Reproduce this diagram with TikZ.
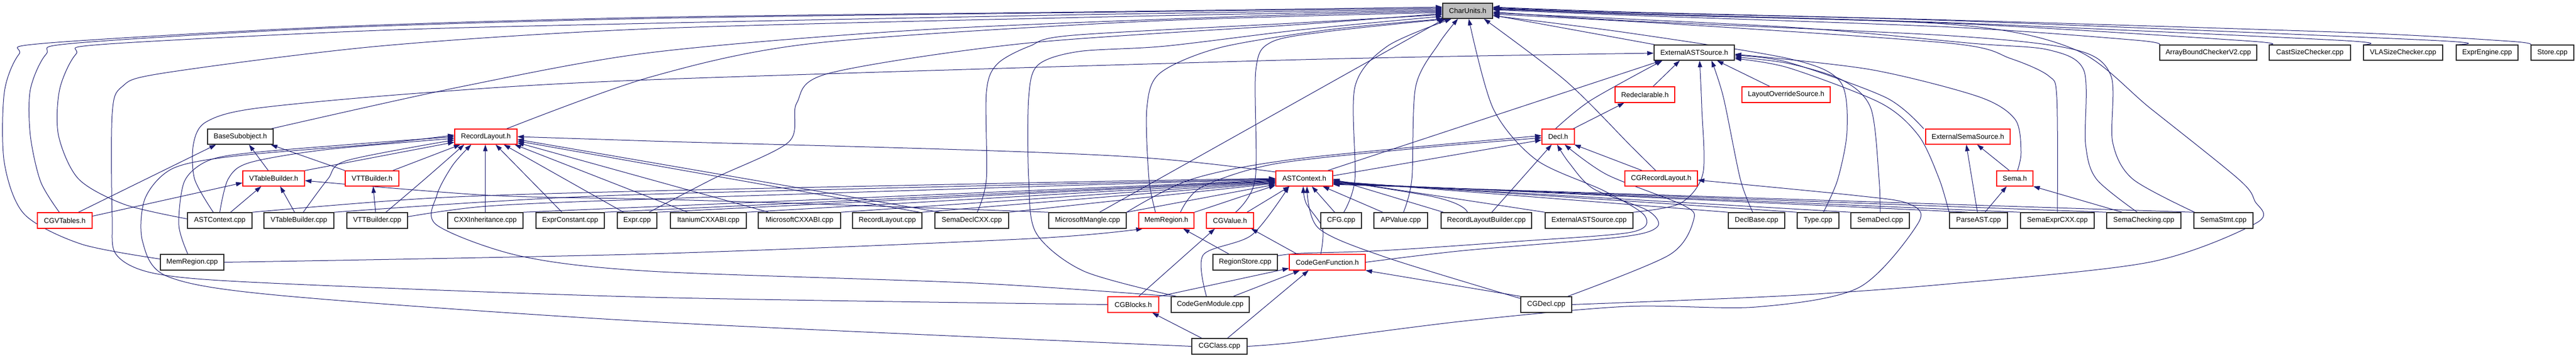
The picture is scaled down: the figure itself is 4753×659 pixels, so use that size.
\documentclass[tikz,border=0pt]{standalone}
\usepackage{fontspec}
\setmainfont{Liberation Sans}
\usetikzlibrary{arrows.meta}
\pgfdeclarelayer{bgfill}
\pgfdeclarelayer{edges}
\pgfsetlayers{bgfill,edges,main}
\definecolor{edgec}{RGB}{25,25,112}
\definecolor{blkc}{RGB}{40,40,40}
\definecolor{grayc}{RGB}{191,191,191}
\tikzset{
  ed/.style={draw=edgec, line width=1pt, -{Triangle[length=12pt,width=8pt]}},
  nbase/.style={rectangle, inner sep=0pt, fill=white, font=\fontsize{13}{15}\selectfont},
  blk/.style={nbase, draw=blkc, line width=1.5pt},
  redb/.style={nbase, draw=red, line width=1.2pt},
  grayb/.style={nbase, draw=blkc, line width=1.5pt, fill=grayc}
}
\newcommand\mknode[7]{\node[#1,minimum width={#4-#3},minimum height={#6-#5}] (#2) at ({(#3+#4)/2},{(#5+#6)/2}) {#7};}
\begin{document}
\begin{tikzpicture}[x=1pt,y=-1pt]
\useasboundingbox (0,0) rectangle (4753,659);
\begin{pgfonlayer}{bgfill}
\fill[white] (0,0) rectangle (4753,659);
\end{pgfonlayer}
% ---- nodes
\mknode{grayb}{CU}{2662}{2754}{6}{34}{CharUnits.h}
\mknode{blk}{EA}{3052}{3200}{83}{111}{ExternalASTSource.h}
\mknode{blk}{ABC}{3985}{4164}{83}{111}{ArrayBoundCheckerV2.cpp}
\mknode{blk}{CSC}{4187}{4337}{83}{111}{CastSizeChecker.cpp}
\mknode{blk}{VLA}{4361}{4507}{83}{111}{VLASizeChecker.cpp}
\mknode{blk}{EE}{4532}{4646}{83}{111}{ExprEngine.cpp}
\mknode{blk}{ST}{4670}{4749}{83}{111}{Store.cpp}
\mknode{redb}{RD}{2980}{3090}{160}{189}{Redeclarable.h}
\mknode{redb}{LO}{3214}{3377}{160}{189}{LayoutOverrideSource.h}
\mknode{blk}{BS}{383}{504}{238}{266}{BaseSubobject.h}
\mknode{redb}{RL}{839}{954}{238}{266}{RecordLayout.h}
\mknode{redb}{DH}{2845}{2905}{238}{266}{Decl.h}
\mknode{redb}{ES}{3553}{3709}{238}{266}{ExternalSemaSource.h}
\mknode{redb}{VB}{448}{562}{315}{343}{VTableBuilder.h}
\mknode{redb}{VT}{637}{736}{315}{343}{VTTBuilder.h}
\mknode{redb}{AC}{2354}{2459}{315}{343}{ASTContext.h}
\mknode{redb}{CRL}{2998}{3132}{315}{343}{CGRecordLayout.h}
\mknode{redb}{SH}{3684}{3751}{315}{343}{Sema.h}
\mknode{redb}{CGVT}{69}{170}{392}{421}{CGVTables.h}
\mknode{blk}{ACcpp}{346}{465}{392}{421}{ASTContext.cpp}
\mknode{blk}{VBcpp}{487}{616}{392}{421}{VTableBuilder.cpp}
\mknode{blk}{VTcpp}{640}{752}{392}{421}{VTTBuilder.cpp}
\mknode{blk}{CXXI}{826}{965}{392}{421}{CXXInheritance.cpp}
\mknode{blk}{EC}{989}{1115}{392}{421}{ExprConstant.cpp}
\mknode{blk}{EXPR}{1139}{1212}{392}{421}{Expr.cpp}
\mknode{blk}{IT}{1237}{1377}{392}{421}{ItaniumCXXABI.cpp}
\mknode{blk}{MSABI}{1399}{1551}{392}{421}{MicrosoftCXXABI.cpp}
\mknode{blk}{RLcpp}{1573}{1701}{392}{421}{RecordLayout.cpp}
\mknode{blk}{SDCXX}{1725}{1861}{392}{421}{SemaDeclCXX.cpp}
\mknode{blk}{MSM}{1935}{2078}{392}{421}{MicrosoftMangle.cpp}
\mknode{redb}{MRH}{2101}{2203}{392}{421}{MemRegion.h}
\mknode{redb}{CGV}{2226}{2313}{392}{421}{CGValue.h}
\mknode{blk}{CFG}{2437}{2512}{392}{421}{CFG.cpp}
\mknode{blk}{APV}{2535}{2634}{392}{421}{APValue.cpp}
\mknode{blk}{RLB}{2659}{2826}{392}{421}{RecordLayoutBuilder.cpp}
\mknode{blk}{EAcpp}{2851}{3013}{392}{421}{ExternalASTSource.cpp}
\mknode{blk}{DB}{3189}{3293}{392}{421}{DeclBase.cpp}
\mknode{blk}{TY}{3316}{3393}{392}{421}{Type.cpp}
\mknode{blk}{SD}{3415}{3523}{392}{421}{SemaDecl.cpp}
\mknode{blk}{PA}{3597}{3704}{392}{421}{ParseAST.cpp}
\mknode{blk}{SECXX}{3728}{3864}{392}{421}{SemaExprCXX.cpp}
\mknode{blk}{SC}{3887}{4024}{392}{421}{SemaChecking.cpp}
\mknode{blk}{SS}{4048}{4157}{392}{421}{SemaStmt.cpp}
\mknode{blk}{MRcpp}{296}{413}{469}{498}{MemRegion.cpp}
\mknode{blk}{RS}{2238}{2357}{469}{498}{RegionStore.cpp}
\mknode{redb}{CGF}{2379}{2519}{469}{498}{CodeGenFunction.h}
\mknode{redb}{CGB}{2044}{2138}{547}{576}{CGBlocks.h}
\mknode{blk}{CGM}{2161}{2305}{547}{576}{CodeGenModule.cpp}
\mknode{blk}{CGD}{2806}{2900}{547}{576}{CGDecl.cpp}
\mknode{blk}{CGC}{2199}{2301}{624}{653}{CGClass.cpp}
% ---- edges
\begin{pgfonlayer}{edges}
% into CharUnits.h from the left
\draw[ed] plot[smooth] coordinates {([yshift=6]MRcpp.west) (150,450) (45,395) (8,300) (8,170) (35,100) (80,80) (600,50) (1200,32) (2000,22) ([yshift=7]CU.west)};
\draw[ed] plot[smooth] coordinates {([xshift=-10]CGVT.north) (75,335) (56,250) (56,165) (85,100) (134,80) (600,52) (1200,34) (2000,23) ([yshift=5]CU.west)};
\draw[ed] plot[smooth] coordinates {([yshift=3]ACcpp.west) (230,377) (145,330) (108,250) (110,165) (140,100) (187,82) (700,56) (1200,43) (2000,27) ([yshift=3]CU.west)};
\draw[ed] plot[smooth] coordinates {(CGB.west) (1200,548) (500,522) (290,505) (215,470) (207,400) (207,210) (225,160) (300,135) (700,85) (1200,53) (2000,32) ([yshift=1]CU.west)};
\draw[ed] plot[smooth] coordinates {([xshift=-4]BS.north east) (850,160) (1200,97) (1700,55) (2300,30) ([yshift=-1]CU.west)};
\draw[ed] plot[smooth] coordinates {([xshift=-20]RL.north east) (1200,142) (1500,80) (2100,40) ([yshift=-3]CU.west)};
\draw[ed] plot[smooth] coordinates {([xshift=22]EXPR.north) (1315,330) (1455,262) (1470,190) (1530,135) (1890,80) (2400,45) ([yshift=-5]CU.west)};
\draw[ed] plot[smooth] coordinates {([xshift=10]SDCXX.north) (1820,330) (1820,170) (1840,118) (1900,85) (1980,65) (2400,42) ([yshift=-7]CU.west)};
\draw[ed] plot[smooth] coordinates {([xshift=10]CGM.north west) (2000,500) (1912,430) (1898,330) (1898,180) (1915,120) (1990,95) (2150,85) (2400,55) ([yshift=-10]CU.west)};
\draw[ed] plot[smooth] coordinates {([xshift=-20]MRH.north) (2120,330) (2116,200) (2140,135) (2250,88) (2450,55) ([xshift=2]CU.south west)};
\draw[ed] ([xshift=-50]MSM.north east) -- ([xshift=4]CU.south west);
\draw[ed] plot[smooth] coordinates {([xshift=10]CGV.north) (2316,330) (2317,130) (2345,78) (2450,58) ([xshift=10]CU.south west)};
\draw[ed] plot[smooth] coordinates {([xshift=5]CFG.north) (2500,330) (2500,160) (2560,85) ([xshift=-30]CU.south)};
\draw[ed] plot[smooth] coordinates {([xshift=5]APV.north) (2605,330) (2612,160) (2655,80) ([xshift=-18]CU.south)};
\draw[ed] plot[smooth] coordinates {([yshift=12]RS.east) (2400,467) (2550,462) (2800,445) (3010,428) (3035,398) (2960,352) (2835,295) (2755,200) ([xshift=2]CU.south)};
\draw[ed] plot[smooth] coordinates {([xshift=-10]CRL.north) (3010,270) (2890,150) ([xshift=30]CU.south)};
\draw[ed] ([xshift=2]EA.north west) -- ([yshift=-8]CU.east);
% into CharUnits.h from the right
\draw[ed] plot[smooth] coordinates {(ABC.north west) (3940,74) (3600,50) (3000,28) ([yshift=2]CU.east)};
\draw[ed] plot[smooth] coordinates {(CSC.north west) (4140,75) (3600,43) (3000,26) ([yshift=4]CU.east)};
\draw[ed] plot[smooth] coordinates {(VLA.north west) (4310,74) (3600,42) (3000,25) ([yshift=5]CU.east)};
\draw[ed] plot[smooth] coordinates {(EE.north west) (4480,74) (3600,38) (3000,23) ([yshift=6]CU.east)};
\draw[ed] plot[smooth] coordinates {(ST.north west) (4630,76) (4335,60) (3600,37) (3000,22) ([yshift=7]CU.east)};
\draw[ed] plot[smooth] coordinates {([xshift=2]SS.north west) (3935,330) (3898,262) (3895,140) (3830,92) (3600,66) (3000,38) ([yshift=-2]CU.east)};
\draw[ed] plot[smooth] coordinates {([xshift=-12]SC.north) (3868,330) (3848,265) (3845,130) (3780,92) (3640,80) (3300,50) ([yshift=-4]CU.east)};
\draw[ed] plot[smooth] coordinates {(SECXX.north) (3795,180) (3780,140) (3710,108) (3600,80) (3100,45) ([yshift=-6]CU.east)};
\draw[ed] plot[smooth] coordinates {([xshift=10]TY.north) (3391,330) (3408,240) (3395,150) (3300,108) (3000,60) ([yshift=-9]CU.east)};
\draw[ed] plot[smooth] coordinates {(CGD.east) (3300,545) (3600,523) (3968,483) (4165,410) (4160,370) (4130,330) (3968,200) (3830,92) (3600,45) (3000,25) ([yshift=3]CU.east)};
% CGClass -> CGRecordLayout
\draw[ed] plot[smooth] coordinates {(CGC.east) (2400,630) (2700,592) (3000,565) (3240,566) (3430,530) (3540,410) (3520,375) (3420,360) ([yshift=-3]CRL.east)};
% into ExternalASTSource.h
\draw[ed] plot[smooth] coordinates {([xshift=-12]ACcpp.north) (359,330) (357,265) (380,225) (470,200) (770,172) (1200,147) (2400,110) ([yshift=-1]EA.west)};
\draw[ed] ([xshift=-10]AC.north east) -- ([xshift=14]EA.south west);
\draw[ed] plot[smooth] coordinates {([xshift=-5]DH.north) (2935,185) ([xshift=16]EA.south west)};
\draw[ed] ([xshift=15]RD.north) -- ([xshift=48]EA.south west);
\draw[ed] ([xshift=-30]LO.north) -- ([xshift=42]EA.south);
\draw[ed] plot[smooth] coordinates {(EAcpp.north east) (3100,375) (3142,320) (3140,200) ([xshift=10]EA.south)};
\draw[ed] plot[smooth] coordinates {([xshift=-7]DB.north) (3211,330) (3180,180) ([xshift=32]EA.south)};
\draw[ed] plot[smooth] coordinates {(SD.north) (3467,330) (3452,200) (3400,148) (3300,117) ([yshift=-8]EA.east)};
\draw[ed] plot[smooth] coordinates {(PA.north west) (3578,330) (3540,250) (3470,190) (3300,125) ([yshift=-11]EA.east)};
\draw[ed] plot[smooth] coordinates {([xshift=5]SH.north) (3729,280) (3718,220) (3650,178) (3450,128) ([yshift=-3]EA.east)};
\draw[ed] plot[smooth] coordinates {([xshift=-3]ES.north west) (3480,180) (3300,115) ([yshift=-5]EA.east)};
% Decl.h and Redeclarable.h
\draw[ed] ([xshift=-3]DH.north east) -- ([xshift=-38]RD.south);
\draw[ed] ([yshift=5]AC.east) -- ([yshift=-6]DH.west);
\draw[ed] plot[smooth] coordinates {([xshift=26]MRH.north) (2217,345) (2353,302) (2620,273) ([yshift=-2]DH.west)};
\draw[ed] plot[smooth] coordinates {(MSM.north east) (2200,330) (2400,292) ([yshift=2]DH.west)};
\draw[ed] ([xshift=10]RLB.north) -- ([xshift=-12]DH.south);
\draw[ed] plot[smooth] coordinates {(CGF.east) (2700,462) (2990,437) (3058,418) (3040,388) (2940,348) (2895,300) ([xshift=-2]DH.south)};
\draw[ed] plot[smooth] coordinates {([xshift=-8]CGD.north east) (3080,470) (3125,405) (3105,378) (2965,322) ([xshift=12]DH.south)};
\draw[ed] ([xshift=-35]CRL.north) -- ([xshift=-1]DH.south east);
% into RecordLayout.h
\draw[ed] (VB.north east) -- ([yshift=-10]RL.west);
\draw[ed] ([xshift=-12]VT.north east) -- ([xshift=-47]RL.south);
\draw[ed] plot[smooth] coordinates {([xshift=16]VTcpp.north) (784,330) ([xshift=-40]RL.south)};
\draw[ed] plot[smooth] coordinates {(CGM.north west) (1800,522) (1200,500) (960,472) (806,415) (806,360) (835,305) ([xshift=-27]RL.south)};
\draw[ed] (CXXI.north) -- ([xshift=-1]RL.south);
\draw[ed] ([xshift=-15]EC.north) -- ([xshift=18]RL.south);
\draw[ed] ([xshift=-25]EXPR.north) -- ([xshift=33]RL.south);
\draw[ed] ([xshift=-38]IT.north) -- ([xshift=-5]RL.south east);
\draw[ed] ([xshift=20]MSABI.north west) -- ([yshift=-11]RL.east);
\draw[ed] ([xshift=-5]RLcpp.north east) -- ([yshift=-8]RL.east);
\draw[ed] ([xshift=10]SDCXX.north west) -- ([yshift=-5]RL.east);
\draw[ed] plot[smooth] coordinates {([xshift=-8]MRcpp.north) (330,415) (340,335) (380,298) (450,283) (650,266) (RL.west)};
\draw[ed] plot[smooth] coordinates {(CGC.west) (1200,593) (520,545) (310,510) (263,445) (268,365) (320,310) (440,287) (700,265) ([yshift=3]RL.west)};
\draw[ed] plot[smooth] coordinates {(ACcpp.north) (421,330) (460,300) (600,276) ([yshift=-3]RL.west)};
\draw[ed] plot[smooth] coordinates {([xshift=8]VBcpp.north) (605,330) (640,296) ([yshift=-6]RL.west)};
\draw[ed] plot[smooth] coordinates {([xshift=-35]RLB.north) (2620,358) (2100,290) (1200,260) (RL.east)};
% VTableBuilder.h, VTTBuilder.h, BaseSubobject.h
\draw[ed] ([yshift=8]CGVT.east) -- ([yshift=-8]VB.west);
\draw[ed] ([xshift=20]ACcpp.north) -- ([xshift=-23]VB.south);
\draw[ed] ([xshift=-8]VBcpp.north) -- ([xshift=12]VB.south);
\draw[ed] plot[smooth] coordinates {(MSM.north west) (1500,376) (1200,367) (900,360) ([yshift=-4]VB.east)};
\draw[ed] ([xshift=-10]VB.north) -- ([xshift=16]BS.south);
\draw[ed] (VT.north west) -- ([xshift=-5]BS.south east);
\draw[ed] ([xshift=25]CGVT.north) -- ([xshift=-45]BS.south);
\draw[ed] ([xshift=-3]VTcpp.north) -- ([xshift=2]VT.south);
% MemRegion.h, CGValue.h, CodeGenFunction.h, CGBlocks.h
\draw[ed] plot[smooth] coordinates {(MRcpp.east) (1200,468) (1900,440) ([xshift=8]MRH.south west)};
\draw[ed] ([xshift=-30]RS.north) -- ([xshift=31]MRH.south);
\draw[ed] (MRH.north east) -- ([yshift=2]AC.south west);
\draw[ed] ([xshift=-13]CGV.north east) -- ([xshift=-27]AC.south);
\draw[ed] ([xshift=10]CGB.north) -- ([xshift=-28]CGV.south);
\draw[ed] ([xshift=15]CGF.north west) -- ([xshift=-5]CGV.south east);
\draw[ed] plot[smooth] coordinates {([xshift=-12]CGF.north) (2440,420) (2410,375) ([xshift=-2]AC.south)};
\draw[ed] (CGB.north east) -- ([yshift=4]CGF.south west);
\draw[ed] ([xshift=-30]CGM.north east) -- ([xshift=20]CGF.south west);
\draw[ed] ([xshift=15]CGC.north) -- ([xshift=36]CGF.south west);
\draw[ed] (CGD.north west) -- (CGF.south east);
\draw[ed] plot[smooth] coordinates {([yshift=-4]CGD.north west) (2553,473) (2432,420) ([xshift=5]AC.south)};
\draw[ed] ([xshift=-33]CGC.north) -- ([xshift=35]CGB.south);
\draw[ed] plot[smooth] coordinates {([xshift=-7]CGM.north) (2220,470) (2310,433) ([xshift=25]AC.south west)};
% Sema
\draw[ed] ([xshift=-2]PA.north) -- ([xshift=-3]ES.south);
\draw[ed] ([xshift=-10]SH.north) -- ([xshift=17]ES.south);
\draw[ed] ([xshift=12]PA.north) -- ([xshift=-15]SH.south);
\draw[ed] ([xshift=-40]SC.north) -- (SH.south east);
% into ASTContext.h from the left
\draw[ed] plot[smooth] coordinates {(ACcpp.north east) (800,365) (1200,352) (2000,335) (AC.west)};
\draw[ed] plot[smooth] coordinates {(VBcpp.north east) (900,372) (1200,358) (2000,338) ([yshift=-1]AC.west)};
\draw[ed] plot[smooth] coordinates {([yshift=7]VTcpp.east) (900,380) (1200,367) (2000,341) ([yshift=-2]AC.west)};
\draw[ed] (CXXI.north east) -- ([yshift=-3]AC.west);
\draw[ed] (EC.north east) -- ([yshift=-4]AC.west);
\draw[ed] (EXPR.north east) -- ([yshift=-5]AC.west);
\draw[ed] (IT.north east) -- ([yshift=-6]AC.west);
\draw[ed] (MSABI.north east) -- ([yshift=-7]AC.west);
\draw[ed] (RLcpp.north east) -- ([yshift=-8]AC.west);
\draw[ed] (SDCXX.north east) -- ([yshift=-9]AC.west);
\draw[ed] (MSM.north east) -- ([yshift=-11]AC.west);
% into ASTContext.h from below / right
\draw[ed] ([xshift=-12]CFG.north) -- ([xshift=14]AC.south);
\draw[ed] ([xshift=17]APV.north west) -- ([xshift=34]AC.south);
\draw[ed] ([xshift=5]RLB.north west) -- ([yshift=-1]AC.east);
\draw[ed] (EAcpp.north west) -- ([yshift=-3]AC.east);
\draw[ed] (DB.north west) -- ([yshift=-5]AC.east);
\draw[ed] (TY.north west) -- ([yshift=-6]AC.east);
\draw[ed] (SD.north west) -- ([yshift=-7]AC.east);
\draw[ed] ([xshift=-20]PA.north) -- ([yshift=-8]AC.east);
\draw[ed] (SECXX.north west) -- ([yshift=-9]AC.east);
\draw[ed] (SC.north west) -- ([yshift=-10]AC.east);
\draw[ed] (SS.north west) -- ([yshift=-11]AC.east);
\end{pgfonlayer}
\end{tikzpicture}
\end{document}
